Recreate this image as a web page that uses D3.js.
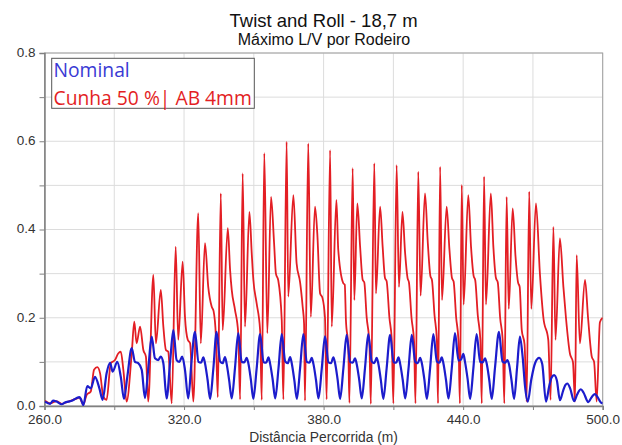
<!DOCTYPE html>
<html>
<head>
<meta charset="utf-8">
<script src="https://cdn.jsdelivr.net/npm/d3@7"></script>
<style>
body { margin: 0; background: #fff; }
text { font-family: "Liberation Sans", Arial, sans-serif; }
</style>
</head>
<body>
<svg width="622" height="445"></svg>
<script>
// chart data
const xTicks = [260, 320, 380, 440, 500];
const xGrid = [260, 290, 320, 350, 380, 410, 440, 470, 500];
const yTicks = [0, 0.2, 0.4, 0.6, 0.8];
const yGrid = [0, 0.1, 0.2, 0.3, 0.4, 0.5, 0.6, 0.7, 0.8];
const seriesNames = ['Nominal', 'Cunha 50 %| AB 4mm'];

// Nominal: [distance (m), L/V]
const nominal = [
  [260.2,.010],[262.4,.005],[263.7,.012],[265.2,.010],[267.4,.004],[268.8,.008],[270.2,.010],[271.8,.012],
  [273.5,.017],[275.0,.020],[275.7,.015],[276.7,.002],[278.4,.045],[279.9,.040],[281.7,.066],[283.6,.040],
  [285.0,.014],[286.7,.074],[288.2,.098],[289.3,.078],[291.3,.100],[292.8,.066],[294.2,.016],[295.6,.066],
  [297.5,.131],[298.9,.100],[300.3,.097],[301.8,.082],[303.2,.018],[304.7,.090],[306.1,.157],[307.5,.108],
  [308.9,.104],[310.0,.112],[311.1,.097],[312.5,.017],[314.0,.100],[315.4,.172],[316.8,.104],[318.0,.100],
  [319.2,.112],[320.4,.082],[321.8,.017],[323.2,.100],
  [324.7,.168],[326.2,.100],[327.3,.098],[328.3,.110],[329.0,.097],[330.1,.060],[331.2,.016],[332.6,.085],
  [334.0,.168],[335.5,.101],[336.6,.097],[337.6,.111],[338.3,.096],[339.4,.058],[340.5,.017],[341.9,.086],
  [343.3,.165],[344.8,.100],[345.9,.099],[346.9,.109],[347.6,.098],[348.7,.061],[349.8,.016],[351.2,.084],
  [352.7,.163],[354.2,.099],[355.3,.098],[356.3,.110],[357.0,.096],[358.1,.060],[359.2,.017],[360.6,.085],
  [362.0,.163],[363.5,.101],[364.6,.097],[365.6,.111],[366.3,.097],[367.4,.059],[368.5,.016],[369.9,.086],
  [371.3,.163],[372.8,.100],[373.9,.098],[374.9,.109],[375.6,.096],[376.7,.060],[377.8,.017],[379.2,.084],
  [380.6,.158],[382.1,.099],[383.2,.097],[384.2,.110],[384.9,.098],[386.0,.061],[387.1,.016],[388.5,.085],
  [389.9,.161],[391.4,.100],[392.5,.098],[393.5,.108],[394.2,.096],[395.3,.060],[396.4,.017],[397.8,.086],
  [399.2,.163],[400.7,.101],[401.8,.097],[402.8,.109],[403.5,.097],[404.6,.059],[405.7,.016],[407.1,.085],
  [408.6,.161],[410.1,.099],[411.2,.098],[412.2,.110],[412.9,.096],[414.0,.060],[415.1,.017],[416.5,.084],
  [417.9,.161],[419.4,.100],[420.5,.097],[421.5,.109],[422.2,.098],[423.3,.061],[424.4,.016],[425.8,.086],
  [427.2,.163],[428.7,.101],[429.8,.098],[430.8,.110],[431.5,.097],[432.6,.060],[433.7,.017],[435.1,.085],
  [436.5,.165],[438.0,.103],[439.1,.105],[440.1,.118],[440.8,.100],[441.9,.062],[443.0,.016],[444.4,.086],
  [445.8,.163],[447.3,.100],[448.4,.099],[449.4,.108],[450.1,.097],[451.2,.060],[452.3,.016],[453.7,.087],
  [455.4,.168],[456.9,.101],[458.0,.098],[459.0,.104],[459.7,.095],[460.8,.058],[461.9,.016],[463.2,.088],
  [464.4,.157],[465.6,.110],[466.6,.045],[467.8,.010],
  [469.3,.060],[471.0,.098],[472.7,.109],[474.0,.095],[475.6,.010],
  [477.0,.045],[478.0,.064],[479.1,.070],[480.3,.058],[481.6,.013],
  [483.0,.035],[484.0,.048],[484.8,.051],[486.0,.040],[487.7,.011],
  [489.0,.026],[489.9,.035],[490.6,.038],[491.8,.030],[493.8,.009],
  [495.0,.018],[496.0,.025],[496.7,.027],[497.8,.020],[499.2,.008],[500.0,.006]
];

// Cunha 50 %| AB 4mm: [distance (m), L/V]
const cunha = [
  [260.2,.012],[262.4,.006],[265.2,.011],[267.4,.005],[270.2,.010],[273.5,.016],[275.0,.019],[276.7,.003],
  [278.1,.025],[279.9,.033],[281.3,.082],[282.7,.088],[283.9,.074],[285.3,.021],[286.7,.014],[288.5,.097],
  [290.3,.104],[291.7,.119],[292.8,.123],[293.9,.082],[295.3,.010],[297.5,.119],[298.6,.191],[299.6,.142],
  [301.1,.180],[302.5,.127],[303.6,.112],[304.6,.010],
  [306.8,.297],[307.9,.142],[310.0,.263],[311.1,.180],[312.2,.127],[313.2,.123],[314.7,.006],
  [316.4,.361],[317.5,.150],[319.4,.327],[320.4,.202],[321.6,.150],[322.6,.142],[324.0,.010],
  [326.1,.437],[327.2,.142],[329.0,.369],[330.4,.270],[331.9,.225],[332.7,.215],[333.7,.157],[334.5,.020],
  [335.8,.482],[336.6,.172],[338.8,.403],[339.8,.308],[340.5,.263],[341.9,.218],[343.3,.165],[344.1,.015],
  [345.2,.527],[346.2,.180],[348.1,.440],[349.1,.346],[349.8,.286],[351.2,.233],[352.7,.172],[353.4,.014],
  [354.5,.573],[355.8,.165],[357.4,.474],[358.7,.370],[359.5,.300],[360.5,.285],[362.0,.195],[362.7,.015],
  [364.1,.599],[364.8,.248],[367.0,.478],[368.4,.323],[369.9,.280],[371.0,.225],[371.6,.187],[372.0,.012],
  [373.4,.595],[374.5,.202],[376.3,.452],[377.3,.390],[378.5,.255],[379.5,.245],[380.6,.200],[381.3,.015],
  [382.8,.580],[383.5,.180],[385.5,.467],[386.3,.354],[388.5,.278],[389.1,.275],[389.6,.195],[390.6,.134],[391.1,.007],
  [392.5,.539],[393.2,.240],[394.5,.459],[395.7,.361],[396.8,.286],[397.5,.280],[398.5,.202],[399.7,.142],[400.3,.005],
  [401.8,.550],[402.5,.255],[404.3,.452],[405.4,.360],[406.4,.290],[407.1,.283],[408.3,.200],[409.3,.150],[410.0,.006],
  [411.4,.546],[412.4,.270],[413.9,.440],[415.0,.350],[416.1,.290],[416.7,.280],[417.8,.200],[418.9,.145],[419.5,.006],
  [420.7,.531],[421.7,.250],[423.6,.482],[424.8,.370],[425.9,.295],[426.6,.285],[427.7,.205],[428.7,.150],[429.2,.006],
  [430.1,.542],[430.9,.240],[432.9,.452],[434.1,.355],[435.2,.290],[435.9,.282],[437.0,.200],[438.0,.148],[438.6,.006],
  [439.4,.501],[440.2,.230],[442.2,.478],[443.4,.360],[444.5,.295],[445.2,.285],[446.3,.205],[447.4,.150],[448.0,.006],
  [449.0,.520],[449.8,.230],[451.9,.482],[453.0,.360],[454.1,.290],[454.9,.280],[455.9,.200],[457.0,.150],[457.7,.006],
  [458.7,.474],[459.6,.220],[461.3,.448],[462.5,.340],[463.6,.280],[464.3,.270],[465.2,.172],[466.4,.140],[467.3,.010],
  [468.4,.486],[469.3,.220],[471.3,.459],[473.0,.300],[474.5,.200],[476.6,.150],[477.6,.014],
  [478.8,.406],[479.7,.150],[481.6,.380],[483.1,.270],[484.2,.200],[485.9,.119],[487.2,.100],[488.1,.010],
  [488.8,.342],[490.2,.142],[492.4,.286],[493.7,.200],[495.3,.112],[496.3,.100],[497.4,.010],[498.8,.190],[500.0,.200]
];

const plotLeft = 44.5, plotRight = 602.7, plotTop = 53, plotBottom = 406;
const svg = d3.select('svg');

const x = d3.scaleLinear().domain([260, 500]).range([plotLeft, plotRight]);
const y = d3.scaleLinear().domain([0, 0.8]).range([plotBottom, plotTop]);

// grid
svg.append('g')
  .selectAll('line')
  .data(xGrid)
  .join('line')
  .attr('x1', d => x(d)).attr('x2', d => x(d))
  .attr('y1', plotTop).attr('y2', plotBottom)
  .attr('stroke', '#dcdcdc');
svg.append('g')
  .selectAll('line')
  .data(yGrid)
  .join('line')
  .attr('x1', plotLeft).attr('x2', plotRight)
  .attr('y1', d => y(d)).attr('y2', d => y(d))
  .attr('stroke', '#dcdcdc');

// frame
svg.append('rect')
  .attr('x', plotLeft).attr('y', plotTop)
  .attr('width', plotRight - plotLeft).attr('height', plotBottom - plotTop)
  .attr('fill', 'none')
  .attr('stroke', '#a0a0a0');

// axes
const xAxis = svg.append('g')
  .attr('transform', `translate(0, ${plotBottom})`)
  .call(d3.axisBottom(x)
    .tickValues(xGrid)
    .tickSize(4)
    .tickPadding(4.5)
    .tickFormat(d => xTicks.includes(d) ? d3.format('.1f')(d) : ''));

const yAxis = svg.append('g')
  .attr('transform', `translate(${plotLeft}, 0)`)
  .call(d3.axisLeft(y)
    .tickValues(yGrid)
    .tickSize(5)
    .tickPadding(4)
    .tickFormat(d => yTicks.some(t => Math.abs(t - d) < 1e-9) ? d3.format('.1f')(d) : ''));

[xAxis, yAxis].forEach(a => {
  a.select('.domain').attr('stroke', '#808080').attr('stroke-width', 1.5);
  a.selectAll('.tick line').attr('stroke', '#808080');
  a.selectAll('.tick text')
    .attr('fill', '#333')
    .style('font-family', '"Liberation Sans", Arial, sans-serif')
    .style('font-size', '13.5px');
});
yAxis.selectAll('.tick text').attr('dy', '0.25em');

// lines
svg.append('clipPath').attr('id', 'plot')
  .append('rect')
  .attr('x', plotLeft).attr('y', plotTop)
  .attr('width', plotRight - plotLeft).attr('height', plotBottom - plotTop);

const line = d3.line()
  .x(d => x(d[0]))
  .y(d => y(d[1]))
  .curve(d3.curveMonotoneX);

svg.append('path')
  .datum(cunha)
  .attr('clip-path', 'url(#plot)')
  .attr('fill', 'none')
  .attr('stroke', '#e31e24')
  .attr('stroke-width', 1.8)
  .attr('d', line);

svg.append('path')
  .datum(nominal)
  .attr('clip-path', 'url(#plot)')
  .attr('fill', 'none')
  .attr('stroke', '#1c1ccc')
  .attr('stroke-width', 2.2)
  .attr('d', line);

// titles
svg.append('text')
  .attr('x', 323.6).attr('y', 26.5)
  .attr('text-anchor', 'middle')
  .attr('fill', '#111')
  .style('font-size', '18.5px')
  .text('Twist and Roll - 18,7 m');

svg.append('text')
  .attr('x', 324).attr('y', 45)
  .attr('text-anchor', 'middle')
  .attr('fill', '#111')
  .style('font-size', '16px')
  .text('Máximo L/V por Rodeiro');

svg.append('text')
  .attr('x', 323.6).attr('y', 442)
  .attr('text-anchor', 'middle')
  .attr('fill', '#333')
  .style('font-size', '13.8px')
  .text('Distância Percorrida (m)');

// legend
const legend = svg.append('g');
legend.append('rect')
  .attr('x', 51.7).attr('y', 58.3)
  .attr('width', 202.6).attr('height', 50)
  .attr('fill', '#fff')
  .attr('stroke', '#555');

legend.selectAll('text.leg')
  .data(seriesNames)
  .join('text')
  .attr('class', 'leg')
  .attr('x', 53.5)
  .attr('y', (d, i) => 76.5 + i * 28)
  .attr('fill', (d, i) => i === 0 ? '#3a3ad4' : '#e31e24')
  .style('font-family', '"Open Sans", sans-serif')
  .style('font-size', '19.3px')
  .text(d => d);
</script>
</body>
</html>
